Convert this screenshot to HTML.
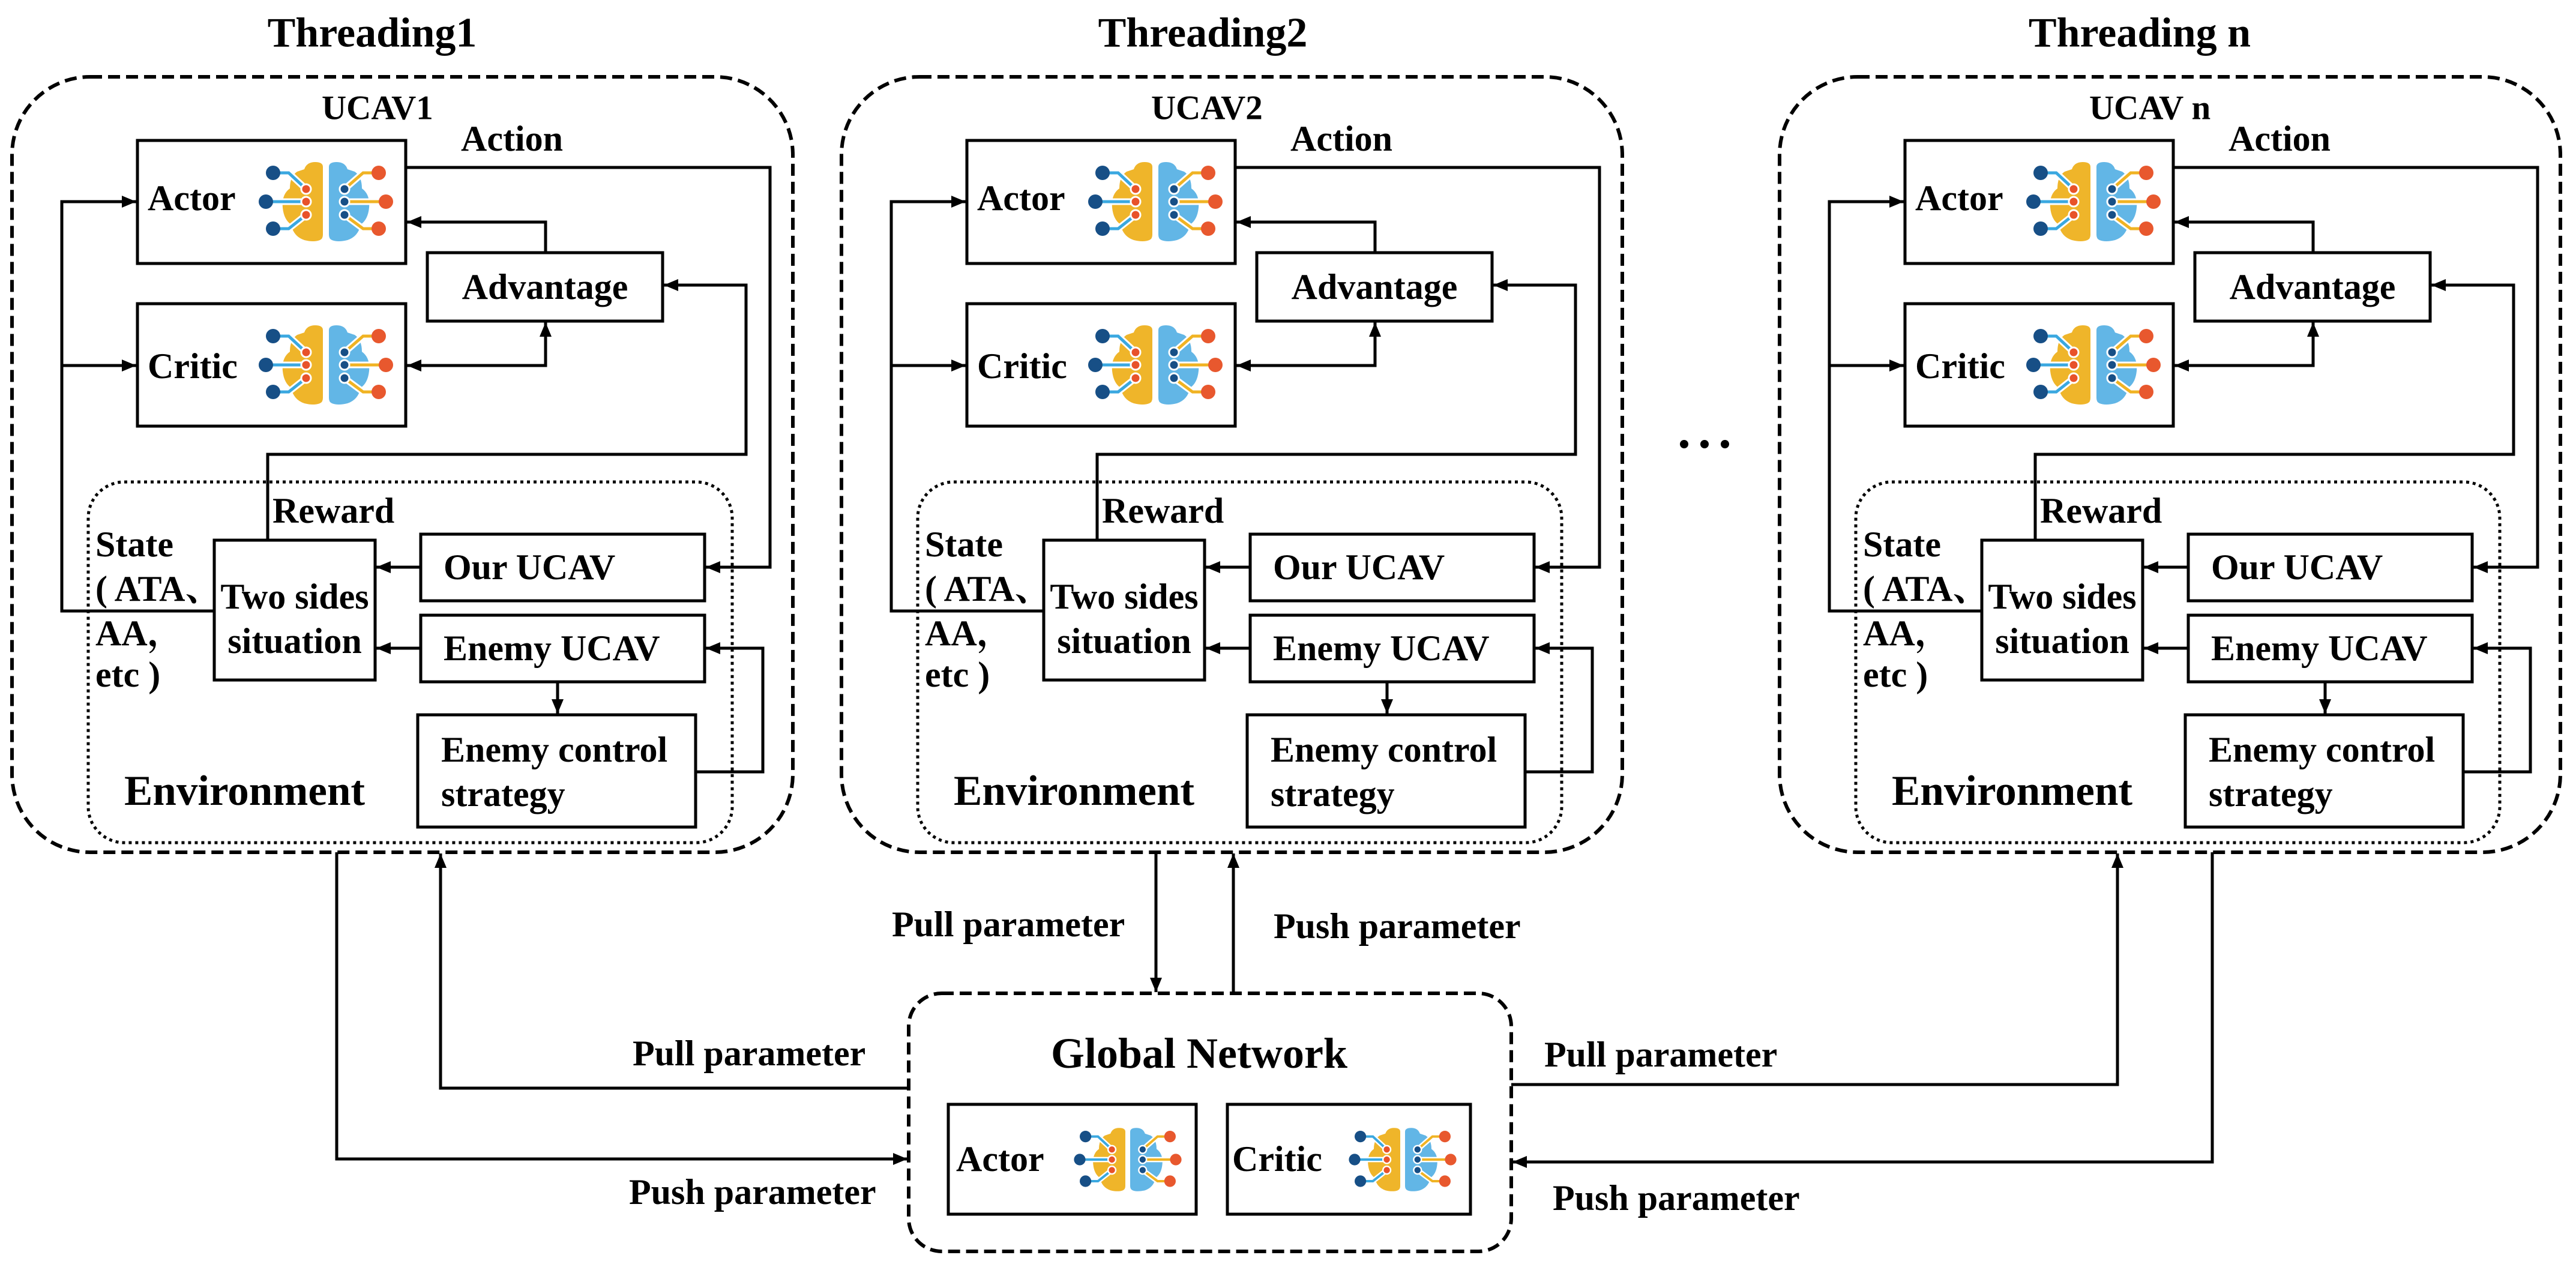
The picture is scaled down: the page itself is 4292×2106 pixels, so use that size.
<!DOCTYPE html>
<html><head><meta charset="utf-8"><style>
html,body{margin:0;padding:0;background:#fff;}
svg{display:block;}
text{font-family:"Liberation Serif","Times New Roman",serif;font-weight:bold;fill:#000;}
.cjk{font-family:"Liberation Serif","Noto Serif CJK SC",serif;}
</style></head><body>
<svg width="4292" height="2106" viewBox="0 0 4292 2106" xmlns="http://www.w3.org/2000/svg" font-family="Liberation Serif, serif">
<defs>
<marker id="a" markerUnits="userSpaceOnUse" markerWidth="26" markerHeight="22" refX="24" refY="10" orient="auto-start-reverse"><path d="M0,0 L24,10 L0,20 z" fill="#000"/></marker>
<g id="icon">
<path d="M-5,-58 Q-5,-66 -18,-66 Q-32,-66 -36,-54 L-48,-50 Q-60,-42 -60,-22 Q-74,-12 -72,10 Q-70,30 -58,38 Q-54,58 -36,64 Q-20,68 -10,64 Q-5,62 -5,55 Z" fill="#efb52a"/>
<path d="M5,-58 Q5,-66 18,-66 Q32,-66 36,-54 L48,-50 Q60,-42 60,-22 Q74,-12 72,10 Q70,30 58,38 Q54,58 36,64 Q20,68 10,64 Q5,62 5,55 Z" fill="#62b6e6"/>
<g fill="none" stroke="#fff" stroke-width="11">
<path d="M-88,-48 L-62,-48 L-33,-21 M-100,0 L-33,0 M-88,45 L-62,45 L-33,22"/>
<path d="M88,-48 L62,-48 L31,-21 M100,0 L31,0 M88,45 L62,45 L31,22"/>
</g>
<g fill="none" stroke="#3aa8e0" stroke-width="5">
<path d="M-88,-48 L-62,-48 L-33,-21 M-100,0 L-33,0 M-88,45 L-62,45 L-33,22"/>
</g>
<g fill="none" stroke="#f0b323" stroke-width="5">
<path d="M88,-48 L62,-48 L31,-21 M100,0 L31,0 M88,45 L62,45 L31,22"/>
</g>
<g fill="#e8522a" stroke="#fff" stroke-width="3">
<circle cx="-33" cy="-21" r="8"/><circle cx="-33" cy="0" r="8"/><circle cx="-33" cy="22" r="8"/>
</g>
<g fill="#174f86" stroke="#fff" stroke-width="3">
<circle cx="31" cy="-21" r="8"/><circle cx="31" cy="0" r="8"/><circle cx="31" cy="22" r="8"/>
</g>
<g fill="#174f86"><circle cx="-88" cy="-48" r="12"/><circle cx="-100" cy="0" r="12"/><circle cx="-88" cy="45" r="12"/></g>
<g fill="#e8582e"><circle cx="88" cy="-48" r="12"/><circle cx="100" cy="0" r="12"/><circle cx="88" cy="45" r="12"/></g>
</g>
<g id="thread">
<rect x="20" y="128" width="1301" height="1292" rx="130" fill="none" stroke="#000" stroke-width="6" stroke-dasharray="20 10"/>
<rect x="147" y="803" width="1073" height="601" rx="60" fill="none" stroke="#000" stroke-width="5" stroke-dasharray="5 6"/>
<g fill="none" stroke="#000" stroke-width="5">
<rect x="229" y="234" width="447" height="205"/>
<rect x="229" y="506" width="447" height="204"/>
<rect x="712" y="421" width="392" height="114"/>
<rect x="357" y="900" width="268" height="233"/>
<rect x="701" y="890" width="473" height="111"/>
<rect x="701" y="1025" width="473" height="111"/>
<rect x="696" y="1191" width="463" height="187"/>
<polyline points="909,421 909,370 678,370" marker-end="url(#a)"/>
<polyline points="678,609 909,609 909,537" marker-start="url(#a)" marker-end="url(#a)"/>
<polyline points="357,1018 103,1018 103,336 227,336" marker-end="url(#a)"/>
<polyline points="103,609 227,609" marker-end="url(#a)"/>
<polyline points="676,279 1283,279 1283,945 1176,945" marker-end="url(#a)"/>
<polyline points="446,900 446,757 1243,757 1243,475 1106,475" marker-end="url(#a)"/>
<polyline points="701,945 627,945" marker-end="url(#a)"/>
<polyline points="701,1080 627,1080" marker-end="url(#a)"/>
<polyline points="929,1136 929,1189" marker-end="url(#a)"/>
<polyline points="1159,1286 1271,1286 1271,1080 1176,1080" marker-end="url(#a)"/>
</g>
<use href="#icon" transform="translate(543,336)"/>
<use href="#icon" transform="translate(543,608)"/>
<g font-size="60" dominant-baseline="central">
<text x="768" y="231">Action</text>
<text x="246" y="330">Actor</text>
<text x="246" y="610">Critic</text>
<text x="908" y="478" text-anchor="middle">Advantage</text>
<text x="454" y="851">Reward</text>
<text x="159" y="907">State</text>
<text x="159" y="981" class="cjk">( ATA、</text>
<text x="159" y="1055" class="cjk">AA，</text>
<text x="159" y="1124" class="cjk">etc )</text>
<text x="491" y="994" text-anchor="middle">Two sides</text>
<text x="491" y="1068" text-anchor="middle">situation</text>
<text x="739" y="945">Our UCAV</text>
<text x="739" y="1080">Enemy UCAV</text>
<text x="735" y="1249">Enemy control</text>
<text x="735" y="1323">strategy</text>
<text x="207" y="1318" font-size="71">Environment</text>
</g>
</g>
</defs>

<use href="#thread"/>
<use href="#thread" transform="translate(1382,0)"/>
<use href="#thread" transform="translate(2945,0)"/>

<g font-size="70" dominant-baseline="central" text-anchor="middle">
<text x="620" y="55">Threading1</text>
<text x="2004" y="55">Threading2</text>
<text x="3565" y="55">Threading n</text>
</g>
<g font-size="57" dominant-baseline="central">
<text x="536" y="180">UCAV1</text>
<text x="1918" y="180">UCAV2</text>
<text x="3481" y="180">UCAV n</text>
</g>

<g fill="#000"><circle cx="2806" cy="740" r="7"/><circle cx="2840" cy="740" r="7"/><circle cx="2874" cy="740" r="7"/></g>

<rect x="1514" y="1655" width="1004" height="430" rx="55" fill="none" stroke="#000" stroke-width="6" stroke-dasharray="20 10"/>
<g fill="none" stroke="#000" stroke-width="5">
<rect x="1580" y="1840" width="413" height="183"/>
<rect x="2045" y="1840" width="405" height="183"/>
<polyline points="561,1420 561,1931 1512,1931" marker-end="url(#a)"/>
<polyline points="1514,1813 734,1813 734,1422" marker-end="url(#a)"/>
<polyline points="1926,1420 1926,1653" marker-end="url(#a)"/>
<polyline points="2055,1655 2055,1422" marker-end="url(#a)"/>
<polyline points="2518,1807 3528,1807 3528,1422" marker-end="url(#a)"/>
<polyline points="3686,1420 3686,1936 2520,1936" marker-end="url(#a)"/>
</g>
<use href="#icon" transform="translate(1879,1932) scale(0.8)"/>
<use href="#icon" transform="translate(2337,1932) scale(0.8)"/>
<g font-size="60" dominant-baseline="central">
<text x="1998" y="1755" font-size="72" text-anchor="middle">Global Network</text>
<text x="1593" y="1931">Actor</text>
<text x="2053" y="1931">Critic</text>
<text x="1054" y="1755">Pull parameter</text>
<text x="1048" y="1986">Push parameter</text>
<text x="1486" y="1540">Pull parameter</text>
<text x="2122" y="1543">Push parameter</text>
<text x="2573" y="1757">Pull parameter</text>
<text x="2587" y="1996">Push parameter</text>
</g>
</svg>
</body></html>
